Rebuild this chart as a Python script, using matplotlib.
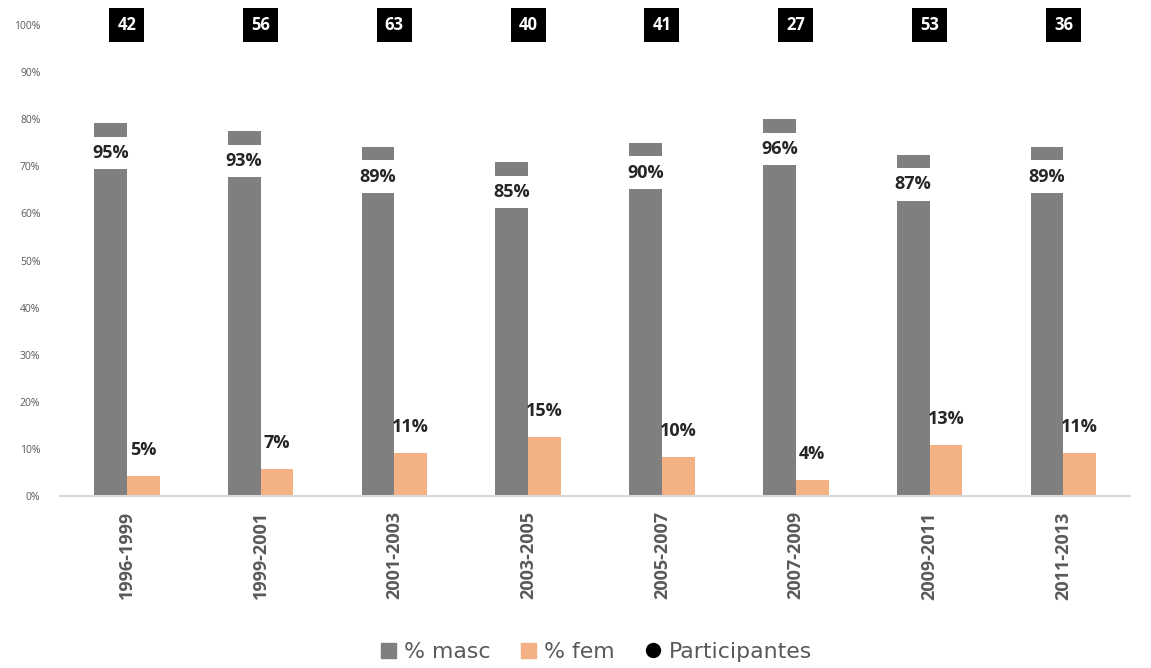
import matplotlib
matplotlib.use("Agg")
import matplotlib.pyplot as plt
from matplotlib.lines import Line2D
from matplotlib.patches import Patch
import numpy as np

# Datos
periodos = ["1996-1999", "1999-2001", "2001-2003", "2003-2005",
            "2005-2007", "2007-2009", "2009-2011", "2011-2013"]
pct_masc = [95, 93, 89, 85, 90, 96, 87, 89]
pct_fem = [5, 7, 11, 15, 10, 4, 13, 11]
participantes = [42, 56, 63, 40, 41, 27, 53, 36]

# eje primario: el tope (etiquetado 100%) equivale a 120 en la escala de las barras
Y_MAX = 120
tick_vals = np.linspace(0, Y_MAX, 11)
tick_labels = [f"{i * 10}%" for i in range(11)]

C_MASC = "#7f7f7f"
C_FEM = "#f4b183"
C_TXT = "#595959"

plt.rcParams["font.family"] = ["Open Sans", "DejaVu Sans"]

fig = plt.figure(figsize=(11.51, 6.68), dpi=100)
ax = fig.add_axes([0.052, 0.2575, 0.93, 0.705])

x = np.arange(len(periodos))
w = 0.245
ax.bar(x - w / 2, pct_masc, w, color=C_MASC, zorder=2)
ax.bar(x + w / 2, pct_fem, w, color=C_FEM, zorder=2)

ax.set_xlim(-0.5, len(periodos) - 0.5)
ax.set_ylim(0, Y_MAX)
ax.set_yticks(tick_vals)
ax.set_yticklabels(tick_labels, fontsize=7.5, color=C_TXT)
ax.set_xticks(x)
ax.set_xticklabels(periodos, rotation=90, fontsize=13, fontweight="bold", color=C_TXT)
ax.tick_params(axis="x", length=0, pad=11)
ax.tick_params(axis="y", length=0, pad=14)

for s in ["top", "right", "left"]:
    ax.spines[s].set_visible(False)
ax.spines["bottom"].set_color("#d9d9d9")
ax.spines["bottom"].set_linewidth(1.5)

# etiquetas de % masc (caja blanca que tapa parte de la barra)
for xi, v in zip(x, pct_masc):
    ax.text(xi - w / 2, v - 7.6, f"{v}%", ha="center", va="center",
            fontsize=13, fontweight="bold", color="#262626", zorder=3,
            bbox=dict(boxstyle="square,pad=0.4", fc="white", ec="none"))

# etiquetas de % fem
for xi, v in zip(x, pct_fem):
    ax.text(xi + w / 2, v + 6.6, f"{v}%", ha="center", va="center",
            fontsize=13, fontweight="bold", color="#262626", zorder=3)

# participantes arriba
for xi, n in zip(x, participantes):
    ax.text(xi, Y_MAX, f"{n}", ha="center", va="center",
            fontsize=12, fontweight="bold", color="white", zorder=4,
            bbox=dict(boxstyle="square,pad=0.48", fc="black", ec="none"),
            clip_on=False)

handles = [
    Patch(color=C_MASC, label="% masc"),
    Patch(color=C_FEM, label="% fem"),
    Line2D([], [], marker="o", color="black", linestyle="none", markersize=10,
           label="Participantes"),
]
leg = fig.legend(handles=handles, loc="center", bbox_to_anchor=(0.518, 0.024),
                 ncol=3, frameon=False, handlelength=0.7,
                 handletextpad=0.35, columnspacing=1.4,
                 prop={"family": "DejaVu Sans", "size": 15.8})
for t in leg.get_texts():
    t.set_color(C_TXT)

fig.savefig("out.png", dpi=100)
